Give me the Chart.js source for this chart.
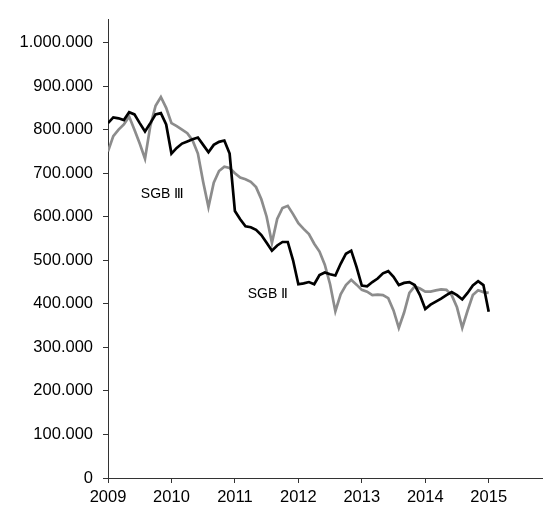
<!DOCTYPE html>
<html>
<head>
<meta charset="utf-8">
<script src="https://cdn.jsdelivr.net/npm/chart.js@4/dist/chart.umd.min.js"></script>
<style>
  html, body { margin: 0; padding: 0; background: #fff; }
  #wrap { width: 543px; height: 506px; }
</style>
</head>
<body>
<div id="wrap"><canvas id="c" width="543" height="506"></canvas></div>
<script>
// Monthly values, Jan 2009 .. Jan 2015
const startYear = 2009;
const sgb2 = [
  815, 828, 826, 822, 840, 835, 815, 796, 815, 835, 838, 812,
  745, 758, 768, 773, 778, 782, 765, 748, 765, 772, 775, 745,
  613, 594, 578, 576, 570, 558, 540, 522, 534, 542, 542, 500,
  445, 447, 450, 445, 466, 472, 468, 465, 492, 515, 522, 485,
  442, 440, 450, 458, 470, 475, 462, 443, 448, 450, 443, 420,
  388, 398, 405, 412, 420, 427, 420, 410, 425, 442, 452, 443,
  382
];
const sgb3 = [
  750, 785, 800, 812, 830, 800, 768, 733, 808, 855, 875, 850,
  815, 808, 800, 792, 775, 745, 680, 622, 678, 705, 715, 712,
  700, 690, 686, 680, 668, 640, 600, 540, 595, 620, 625, 606,
  585, 572, 560, 538, 520, 490, 445, 383, 422, 443, 455, 444,
  432, 428, 420, 421, 420, 413, 385, 345, 380, 425, 440, 435,
  428, 428, 431, 433, 432, 420, 392, 345, 384, 420, 431, 427,
  425
];
const yTicks = [0, 100000, 200000, 300000, 400000, 500000, 600000, 700000, 800000, 900000, 1000000];
const xTicks = [2009, 2010, 2011, 2012, 2013, 2014, 2015];
const seriesNames = ['SGB Ⅱ', 'SGB Ⅲ'];

const toPoints = arr => arr.map((v, i) => ({ x: startYear + i / 12, y: v * 1000 }));
const fmt = v => String(v).replace(/\B(?=(\d{3})+(?!\d))/g, '.');

const labelPlugin = {
  id: 'seriesLabels',
  afterDatasetsDraw(chart, args, opts) {
    const { ctx, scales } = chart;
    ctx.save();
    ctx.font = '14px "Liberation Sans", Arial, sans-serif';
    ctx.fillStyle = '#000';
    ctx.textAlign = 'center';
    ctx.textBaseline = 'middle';
    opts.items.forEach(it => {
      ctx.fillText(it.text, scales.x.getPixelForValue(it.x), scales.y.getPixelForValue(it.y));
    });
    ctx.restore();
  }
};

const tickFont = { family: '"Liberation Sans", Arial, sans-serif', size: 16.5 };
const axisColor = '#333';

new Chart(document.getElementById('c'), {
  type: 'line',
  data: {
    datasets: [
      { label: seriesNames[0], data: toPoints(sgb2), borderColor: '#000', borderWidth: 2.7,
        pointRadius: 0, tension: 0, fill: false },
      { label: seriesNames[1], data: toPoints(sgb3), borderColor: '#8c8c8c', borderWidth: 2.7,
        pointRadius: 0, tension: 0, fill: false }
    ]
  },
  plugins: [labelPlugin],
  options: {
    responsive: false,
    animation: false,
    layout: { padding: { top: 12, right: 1, left: 0, bottom: 0 } },
    plugins: {
      legend: { display: false },
      tooltip: { enabled: false },
      seriesLabels: {
        items: [
          { text: seriesNames[1], x: 2009.86, y: 652000 },
          { text: seriesNames[0], x: 2011.52, y: 422000 }
        ]
      }
    },
    scales: {
      x: {
        type: 'linear',
        min: 2009,
        max: 2015.84,
        afterBuildTicks: s => { s.ticks = xTicks.map(v => ({ value: v })); },
        afterFit: s => { s.height = 28; },
        grid: { display: true, drawOnChartArea: false, drawTicks: true, tickLength: 5, color: axisColor },
        border: { display: true, color: axisColor, width: 1 },
        ticks: { font: tickFont, color: '#000', padding: 5, maxRotation: 0, autoSkip: false,
                 callback: v => String(v) }
      },
      y: {
        type: 'linear',
        min: 0,
        max: 1052000,
        afterBuildTicks: s => { s.ticks = yTicks.map(v => ({ value: v })); },
        afterFit: s => { s.width = 108; },
        grid: { display: true, drawOnChartArea: false, drawTicks: true, tickLength: 5, color: axisColor },
        border: { display: true, color: axisColor, width: 1 },
        ticks: { font: tickFont, color: '#000', padding: 10, autoSkip: false,
                 callback: v => fmt(v) }
      }
    }
  }
});
</script>
</body>
</html>
